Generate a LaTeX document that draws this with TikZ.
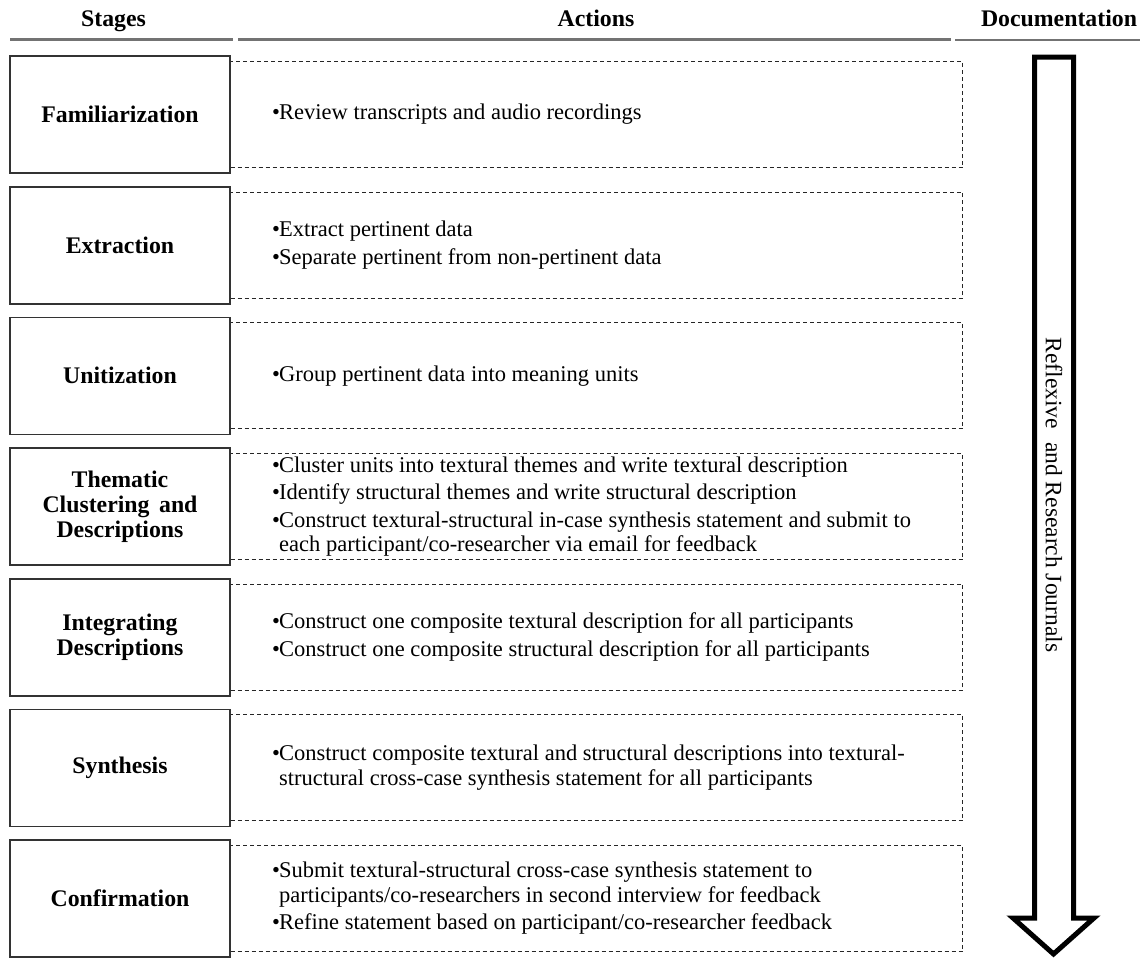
\documentclass[tikz,border=0pt]{standalone}
\usepackage{fontspec}
\setmainfont{Liberation Serif}
\newcommand\itm{\makebox[7pt][l]{\textbullet}}
\newcommand\cnt{\hspace*{7pt}}
\begin{document}
\begin{tikzpicture}[x=1pt,y=-1pt,
  body/.style={font=\fontsize{22.5}{24.5}\selectfont},
  head/.style={font=\fontsize{23.8}{25}\selectfont\bfseries, anchor=base, inner sep=0pt},
  rule/.style={draw=black!55, line width=2.2pt},
  stagebox/.style={draw=black!80, line width=1.6pt, fill=white, minimum width=220pt,
    minimum height=117pt, inner sep=0pt, align=center,
    font=\fontsize{23.8}{25}\selectfont\bfseries},
  actbox/.style={draw=black!85, line width=1pt, dash pattern=on 4pt off 3pt,
    minimum width=732pt, minimum height=106pt, inner sep=0pt, anchor=west},
  acttext/.style={body, anchor=west, align=left, inner sep=0pt},
  bigarrow/.style={draw=black, line width=5pt, line join=miter, fill=white}]
\useasboundingbox (0,0) rectangle (1140,959);

% column headings and rules
\node[head] (hs) at (113.5,26.5) {Stages};
\node[head] (ha) at (596,26.5) {Actions};
\node[head] (hd) at (1059,26.5) {Documentation};
\draw[rule] (10,39.5) -- (233,39.5);
\draw[rule] (238,39.5) -- (951,39.5);
\draw[rule] (955,40) -- (1140,40);

% dashed action frames
\foreach \i in {1,...,7}{
  \node[actbox] (a\i) at (230,{114.5+130.67*(\i-1)}) {};
}

% stage boxes
\node[stagebox] (s1) at (120,114.5) {Familiarization};
\node[stagebox] (s2) at (120,245.2) {Extraction};
\node[stagebox] (s3) at (120,375.8) {Unitization};
\node[stagebox] (s4) at (120,506.5) {Thematic\\Clustering\hspace{0.4em}and\\Descriptions};
\node[stagebox] (s5) at (120,637.2) {Integrating\\Descriptions};
\node[stagebox] (s6) at (120,767.8) {Synthesis};
\node[stagebox] (s7) at (120,898.5) {Confirmation};

% actions
\node[acttext] (t1) at (272,114.5) {\itm Review transcripts and audio recordings};
\node[acttext] (t2) at (272,245.2) {\itm Extract pertinent data\\[3pt]
  \itm Separate pertinent from non-pertinent data};
\node[acttext] (t3) at (272,375.8) {\itm Group pertinent data into meaning units};
\node[acttext] (t4) at (272,506.5) {\itm Cluster units into textural themes and write textural description\\[3pt]
  \itm Identify structural themes and write structural description\\[3pt]
  \itm Construct textural-structural in-case synthesis statement and submit to\\
  \cnt each participant/co-researcher via email for feedback};
\node[acttext] (t5) at (272,637.2) {\itm Construct one composite textural description for all participants\\[3pt]
  \itm Construct one composite structural description for all participants};
\node[acttext] (t6) at (272,767.8) {\itm Construct composite textural and structural descriptions into textural-\\
  \cnt structural cross-case synthesis statement for all participants};
\node[acttext] (t7) at (272,898.5) {\itm Submit textural-structural cross-case synthesis statement to\\
  \cnt participants/co-researchers in second interview for feedback\\[3pt]
  \itm Refine statement based on participant/co-researcher feedback};

% documentation arrow
\draw[bigarrow] (1034.5,57) -- (1034.5,918) -- (1013,918) -- (1053.5,954)
  -- (1094,918) -- (1073.5,918) -- (1073.5,57) -- cycle;
\node[font=\fontsize{23.5}{25}\selectfont, rotate=-90, inner sep=0pt] (journ) at (1054,495)
  {Reflexive\hspace{0.55em}and Research Journals};
\end{tikzpicture}
\end{document}
